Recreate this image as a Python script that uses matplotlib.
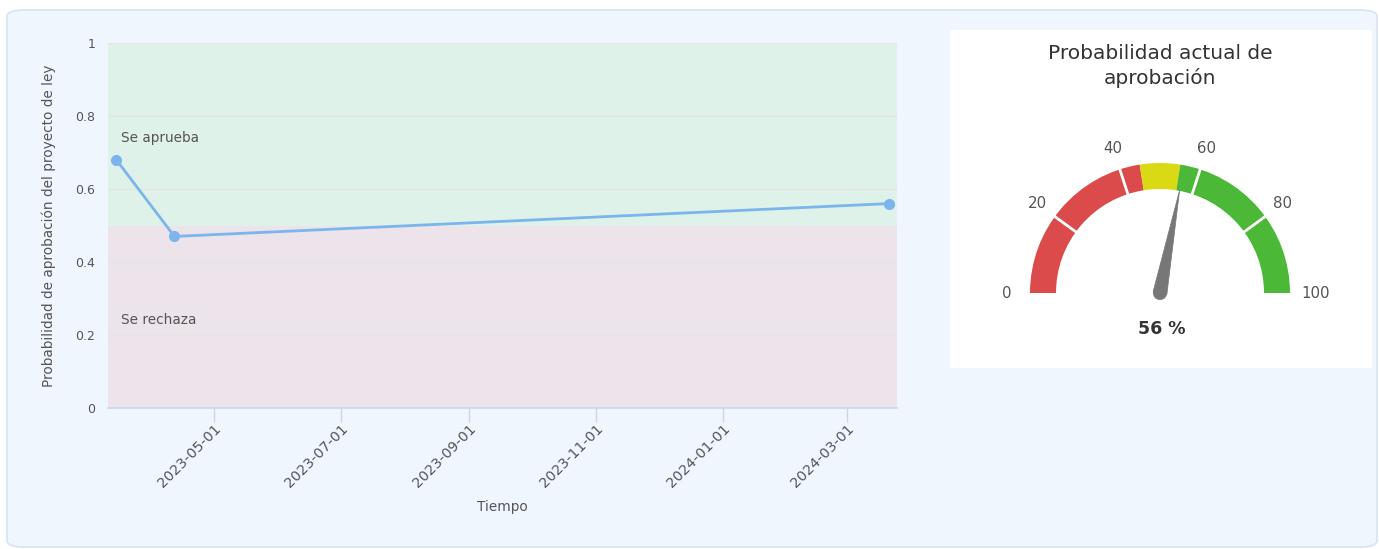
import numpy as np
import matplotlib
matplotlib.use("Agg")
import matplotlib.pyplot as plt
import matplotlib.dates as mdates
import matplotlib.transforms as mtransforms
from matplotlib.patches import Wedge, Polygon, Circle, FancyBboxPatch
import pandas as pd

# ---------------- data ----------------
dates = ["2023-03-15", "2023-04-12", "2024-03-21"]
probabilities = [0.68, 0.47, 0.56]
x_ticks = ["2023-05-01", "2023-07-01", "2023-09-01", "2023-11-01", "2024-01-01", "2024-03-01"]
y_ticks = [0, 0.2, 0.4, 0.6, 0.8, 1]
y_tick_labels = ["0", "0.2", "0.4", "0.6", "0.8", "1"]
region_labels = ["Se aprueba", "Se rechaza"]
threshold = 0.5

gauge_value = 56
gauge_band_starts = [0, 45, 55]
gauge_band_ends = [45, 55, 100]
gauge_band_colors = ["#DC4B4B", "#D9DA13", "#4CB838"]
gauge_ticks = [0, 20, 40, 60, 80, 100]
gauge_title = "Probabilidad actual de\naprobación"

# ---------------- figure ----------------
W, H = 1379, 549
fig = plt.figure(figsize=(W / 100, H / 100), dpi=100)
fig.patch.set_facecolor("white")
plt.rcParams["font.family"] = ["DejaVu Sans"]

TXT = "#555555"

# outer panel
panel = FancyBboxPatch((7 / W, 2 / H), (W - 9) / W, (H - 12) / H,
                       boxstyle="round,pad=0,rounding_size=0.012",
                       transform=fig.transFigure, facecolor="#F0F6FE",
                       edgecolor="#D6E4F5", linewidth=1.2, zorder=-5)
fig.patches.append(panel)

# ---------------- line chart ----------------
ax_l, ax_r, ax_t, ax_b = 108, 897, 43, 408
ax = fig.add_axes([ax_l / W, 1 - ax_b / H, (ax_r - ax_l) / W, (ax_b - ax_t) / H])
ax.set_facecolor("none")

d = pd.to_datetime(dates)
xt = pd.to_datetime(x_ticks)
xmin = pd.Timestamp("2023-03-11")
xmax = pd.Timestamp("2024-03-25")
ax.set_xlim(xmin, xmax)
ax.set_ylim(0, 1)

ax.axhspan(threshold, 1, color="#DFF2E9", zorder=0, lw=0)
ax.axhspan(0, threshold, color="#EDE3EA", zorder=0, lw=0)

for yv in y_ticks[1:]:
    ax.axhline(yv, color="#E4E4E4", lw=0.9, zorder=1)

ax.plot(d, probabilities, color="#7CB5EC", lw=2, marker="o", ms=7,
        zorder=3, clip_on=False)

ax.text(0.016, 0.74, region_labels[0], transform=ax.transAxes,
        fontsize=9.8, color=TXT, va="center", ha="left")
ax.text(0.016, 0.24, region_labels[1], transform=ax.transAxes,
        fontsize=9.8, color=TXT, va="center", ha="left")

ax.set_xticks(xt)
ax.xaxis.set_major_formatter(mdates.DateFormatter("%Y-%m-%d"))
ax.set_yticks(y_ticks)
ax.set_yticklabels(y_tick_labels)
shift = mtransforms.ScaledTranslation(-5 / 100, 0, fig.dpi_scale_trans)
for lbl in ax.get_xticklabels():
    lbl.set_rotation(45)
    lbl.set_ha("right")
    lbl.set_rotation_mode("anchor")
    lbl.set_transform(lbl.get_transform() + shift)
ax.tick_params(axis="x", colors="#CCD6EB", length=10, width=1, labelcolor=TXT,
               labelsize=10.3, pad=0)
ax.tick_params(axis="y", length=0, labelcolor=TXT, labelsize=9, pad=9)
for s in ["top", "right", "left"]:
    ax.spines[s].set_visible(False)
ax.spines["bottom"].set_color("#CCD6EB")
ax.spines["bottom"].set_linewidth(1.2)

ax.set_xlabel("Tiempo", fontsize=9.8, color=TXT, labelpad=7)
ax.set_ylabel("Probabilidad de aprobación del proyecto de ley", fontsize=9.8,
              color=TXT, labelpad=14)

# ---------------- gauge ----------------
gl, gr, gt, gb = 950, 1372, 30, 368
gax = fig.add_axes([gl / W, 1 - gb / H, (gr - gl) / W, (gb - gt) / H])
gax.set_xlim(0, gr - gl)
gax.set_ylim(0, gb - gt)
gax.set_facecolor("white")
gax.set_xticks([])
gax.set_yticks([])
for s in gax.spines.values():
    s.set_visible(False)

cx, cy = 210, 75
r_out, r_in = 130, 104


def ang(v):
    return 180 - v / 100 * 180


for s0, s1, c in zip(gauge_band_starts, gauge_band_ends, gauge_band_colors):
    gax.add_patch(Wedge((cx, cy), r_out, ang(s1), ang(s0), width=r_out - r_in,
                        facecolor=c, edgecolor="none", zorder=2))

for tv in gauge_ticks[1:-1]:
    a = np.deg2rad(ang(tv))
    gax.plot([cx + (r_in - 1) * np.cos(a), cx + (r_out + 1) * np.cos(a)],
             [cy + (r_in - 1) * np.sin(a), cy + (r_out + 1) * np.sin(a)],
             color="white", lw=2, zorder=3, solid_capstyle="butt")

for tv in gauge_ticks:
    a = np.deg2rad(ang(tv))
    rr = 152 if tv not in (0, 100) else 153
    dx = 3 if tv == 100 else 0
    gax.text(cx + rr * np.cos(a) + dx, cy + rr * np.sin(a), str(tv),
             ha="center", va="center", fontsize=10.8, color=TXT, zorder=4)

# needle
a = np.deg2rad(ang(gauge_value))
tip = (cx + 105 * np.cos(a), cy + 105 * np.sin(a))
bw = 7
perp = (np.cos(a + np.pi / 2), np.sin(a + np.pi / 2))
base1 = (cx + bw * perp[0], cy + bw * perp[1])
base2 = (cx - bw * perp[0], cy - bw * perp[1])
gax.add_patch(Polygon([base1, tip, base2], closed=True, facecolor="#777777",
                      edgecolor="#777777", lw=0.5, zorder=5))
gax.add_patch(Circle((cx, cy), bw, facecolor="#777777", edgecolor="none", zorder=5))

gax.text(cx + 2, cy - 36, f"{gauge_value} %", ha="center", va="center",
         fontsize=12.5, fontweight="bold", color="#333333", zorder=5)

gax.text(cx, 338 - 36, gauge_title, ha="center", va="center", fontsize=14.5,
         color="#333333", linespacing=1.3, zorder=5)

fig.savefig("out.png", dpi=100, facecolor=fig.get_facecolor())
